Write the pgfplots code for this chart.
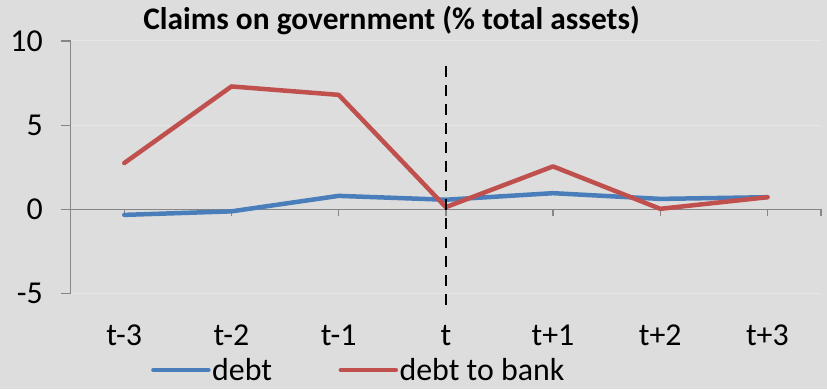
\documentclass[border=0pt]{standalone}
\usepackage{fontspec}
\setmainfont{Carlito}
\usepackage{pgfplots}
\pgfplotsset{compat=1.18}
\definecolor{bg}{RGB}{221,221,221}
\definecolor{gridc}{RGB}{229,229,229}
\definecolor{axisc}{RGB}{134,134,134}
\definecolor{blueL}{RGB}{74,126,187}
\definecolor{redL}{RGB}{192,80,77}
\begin{document}
\begin{tikzpicture}[x=1bp,y=1bp]
\fill[bg] (0,0) rectangle (827,389);
\node[anchor=base, font=\bfseries\fontsize{31.5}{36}\selectfont, inner sep=0pt] at (391.5,359.5) {Claims on government (\% total assets)};
\begin{axis}[
 at={(70.7bp,95.5bp)}, anchor=south west,
 scale only axis, width=750.3bp, height=252.5bp,
 xmin=-0.5, xmax=6.5, ymin=-5, ymax=10,
 axis lines*=left,
 x axis line style={draw=none},
 y axis line style={axisc, line width=1.3bp},
 clip=false,
 xtick={0,1,2,3,4,5,6},
 xticklabels={t-3,t-2,t-1,t,t+1,t+2,t+3},
 xtick style={draw=none},
 xticklabel style={anchor=base, yshift=-41.8bp, inner sep=0pt, font=\fontsize{32}{38}\selectfont},
 ytick={-5,0,5,10},
 yticklabels={-5,0,5,10},
 ytick pos=left,
 ytick style={axisc, line width=1.3bp},
 tick align=outside,
 major tick length=9.7bp,
 yticklabel style={anchor=east, xshift=-18bp, inner sep=0pt, font=\fontsize{32}{38}\selectfont},
 ymajorgrids,
 grid style={gridc, line width=1bp},
 legend columns=2,
 legend style={draw=none, fill=none, at={(0.107,-0.303)}, anchor=west, inner sep=0pt,
   nodes={inner sep=1.5bp, font=\fontsize{32}{38}\selectfont},
   /tikz/every even column/.append style={column sep=65bp}},
 legend cell align=left,
 legend image code/.code={\draw[#1, line width=4.5bp] (0bp,0bp) -- (55bp,0bp);},
]
\draw[axisc, line width=1.3bp] (axis cs:-0.5,0) -- (axis cs:6.5,0);
\pgfplotsinvokeforeach{0,1,2,3,4,5,6,6.5}{\draw[axisc, line width=1.3bp] (axis cs:#1,0) -- ([yshift=-7bp]axis cs:#1,0);}
\addplot[blueL, line width=4.5bp, line join=round, line cap=round] coordinates {(0,-0.33) (1,-0.12) (2,0.80) (3,0.57) (4,0.96) (5,0.62) (6,0.72)};
\addlegendentry{debt}
\addplot[redL, line width=4.5bp, line join=round, line cap=round] coordinates {(0,2.75) (1,7.30) (2,6.80) (3,0.13) (4,2.55) (5,0.03) (6,0.72)};
\addlegendentry{debt to bank}
\addplot[black, line width=2.7bp, dash pattern=on 11bp off 8bp, forget plot] coordinates {(3,8.54) (3,-6.04)};
\end{axis}
\pgfresetboundingbox
\useasboundingbox (0,0) rectangle (827,389);
\end{tikzpicture}
\end{document}
